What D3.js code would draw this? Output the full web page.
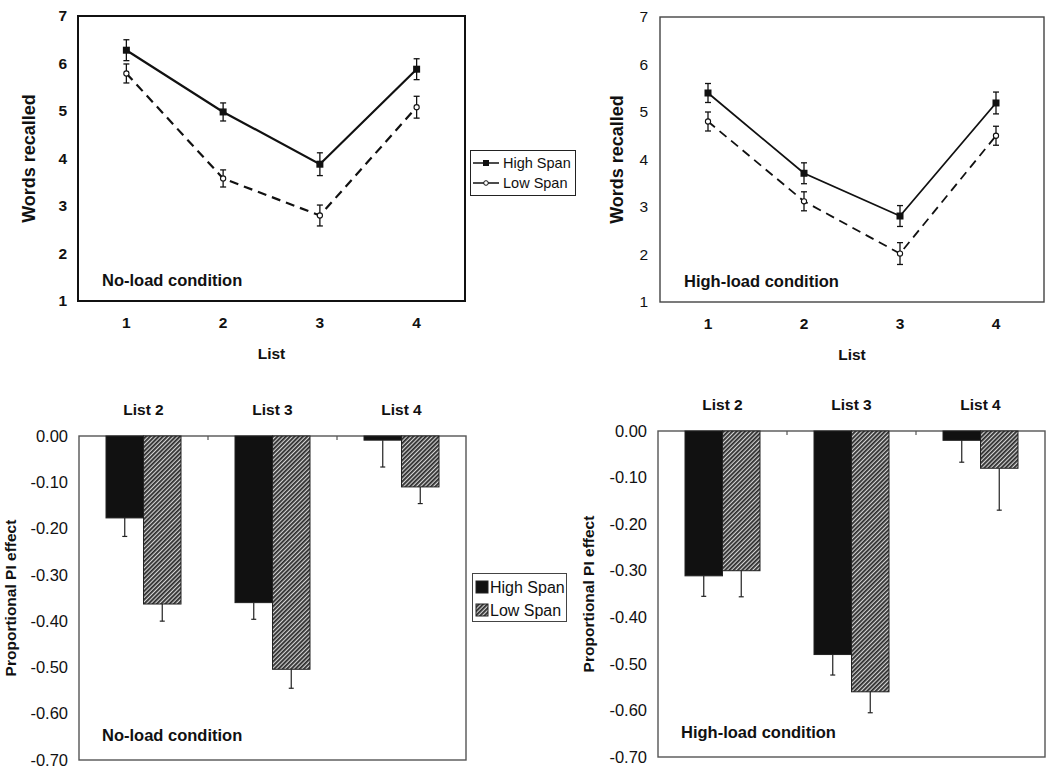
<!DOCTYPE html>
<html><head><meta charset="utf-8">
<script src="https://cdn.jsdelivr.net/npm/d3@7"></script>
<style>
html,body{margin:0;padding:0;background:#fff;}
svg text{font-family:"Liberation Sans",Arial,sans-serif;fill:#111;}
</style></head>
<body>
<svg id="c" width="1050" height="777"></svg>
<script>
// ---------- data ----------
const lists = ["1", "2", "3", "4"];
const seriesNames = ["High Span", "Low Span"];

const noLoadHigh    = [6.28, 4.98, 3.88, 5.88];
const noLoadHighErr = [0.22, 0.19, 0.24, 0.22];
const noLoadLow     = [5.79, 3.58, 2.80, 5.08];
const noLoadLowErr  = [0.20, 0.18, 0.22, 0.23];

const highLoadHigh    = [5.40, 3.71, 2.81, 5.19];
const highLoadHighErr = [0.20, 0.22, 0.22, 0.23];
const highLoadLow     = [4.80, 3.12, 2.02, 4.50];
const highLoadLowErr  = [0.20, 0.20, 0.23, 0.20];

const barCats = ["List 2", "List 3", "List 4"];
const noLoadPIHigh    = [-0.177, -0.360, -0.009];
const noLoadPIHighErr = [0.040, 0.036, 0.058];
const noLoadPILow     = [-0.363, -0.504, -0.110];
const noLoadPILowErr  = [0.037, 0.041, 0.036];

const highLoadPIHigh    = [-0.311, -0.480, -0.020];
const highLoadPIHighErr = [0.044, 0.044, 0.047];
const highLoadPILow     = [-0.300, -0.560, -0.080];
const highLoadPILowErr  = [0.056, 0.045, 0.090];

const lineTicks = [1, 2, 3, 4, 5, 6, 7];
const barTicks = [0, -0.1, -0.2, -0.3, -0.4, -0.5, -0.6, -0.7];

// ---------- drawing ----------
const svg = d3.select("#c");
svg.append("rect").attr("width", 1050).attr("height", 777).attr("fill", "#fff");

const defs = svg.append("defs");
const pat = defs.append("pattern").attr("id", "hatch").attr("patternUnits", "userSpaceOnUse")
  .attr("width", 3).attr("height", 3).attr("patternTransform", "rotate(45)");
pat.append("rect").attr("width", 3).attr("height", 3).attr("fill", "#d4d4d4");
pat.append("line").attr("x1", 0.9).attr("y1", 0).attr("x2", 0.9).attr("y2", 3)
  .attr("stroke", "#222").attr("stroke-width", 1.7);

function lineChart(o) {
  const x = d3.scaleBand().domain(lists).range([o.x0, o.x1]);
  const y = d3.scaleLinear().domain([1, 7]).range([o.y1, o.y0]);
  const g = svg.append("g");
  g.append("rect").attr("x", o.x0).attr("y", o.y0).attr("width", o.x1 - o.x0).attr("height", o.y1 - o.y0)
    .attr("fill", "none").attr("stroke", o.boxColor).attr("stroke-width", o.boxW);
  const ya = g.append("g").attr("transform", `translate(${o.x0},0)`)
    .call(d3.axisLeft(y).tickValues(lineTicks).tickSize(0).tickPadding(o.tickPad).tickFormat(d3.format("d")));
  ya.select(".domain").remove();
  ya.selectAll("text").attr("font-size", 15.5).attr("font-weight", o.yBold ? "bold" : "normal")
    .attr("font-family", "Liberation Sans, Arial, sans-serif").attr("fill", "#111");
  const xa = g.append("g").attr("transform", `translate(0,${o.y1})`)
    .call(d3.axisBottom(x).tickSize(0).tickPadding(16));
  xa.select(".domain").remove();
  xa.selectAll("text").attr("font-size", 15.5).attr("font-weight", "bold")
    .attr("font-family", "Liberation Sans, Arial, sans-serif").attr("fill", "#111");
  g.append("text").attr("x", (o.x0 + o.x1) / 2).attr("y", o.y1 + 58).attr("text-anchor", "middle")
    .attr("font-size", 15.5).attr("font-weight", "bold").text("List");
  g.append("text").attr("transform", `translate(${o.ylabX},${(o.y0 + o.y1) / 2}) rotate(-90)`)
    .attr("text-anchor", "middle").attr("dy", "0.35em").attr("font-size", 18).attr("font-weight", "bold")
    .text("Words recalled");
  g.append("text").attr("x", o.x0 + 24).attr("y", o.y1 - 21).attr("dy", "0.35em")
    .attr("font-size", 16.5).attr("font-weight", "bold").text(o.label);

  const cx = d => x(d) + x.bandwidth() / 2;
  const series = [
    {v: o.low, e: o.lowErr, dash: "9,6", type: "low"},
    {v: o.high, e: o.highErr, dash: null, type: "high"}
  ];
  series.forEach(s => {
    const pts = lists.map((d, i) => ({d, v: s.v[i], e: s.e[i]}));
    g.append("path").datum(pts)
      .attr("d", d3.line().x(p => cx(p.d)).y(p => y(p.v)))
      .attr("fill", "none").attr("stroke", "#111").attr("stroke-width", o.lineW)
      .attr("stroke-dasharray", s.dash);
    const eb = g.append("g").selectAll("g").data(pts).join("g");
    eb.append("line").attr("x1", p => cx(p.d)).attr("x2", p => cx(p.d))
      .attr("y1", p => y(p.v + p.e)).attr("y2", p => y(p.v - p.e)).attr("stroke", "#111").attr("stroke-width", 1.3);
    [1, -1].forEach(sg => eb.append("line").attr("x1", p => cx(p.d) - 3).attr("x2", p => cx(p.d) + 3)
      .attr("y1", p => y(p.v + sg * p.e)).attr("y2", p => y(p.v + sg * p.e)).attr("stroke", "#111").attr("stroke-width", 1.3));
    if (s.type === "high") {
      eb.append("rect").attr("x", p => cx(p.d) - 3.5).attr("y", p => y(p.v) - 3.5)
        .attr("width", 7).attr("height", 7).attr("fill", "#111");
    } else {
      eb.append("circle").attr("cx", p => cx(p.d)).attr("cy", p => y(p.v)).attr("r", 2.6)
        .attr("fill", "#fff").attr("stroke", "#111").attr("stroke-width", 1.1);
    }
  });
}

lineChart({x0: 78, x1: 465, y0: 16, y1: 301, boxColor: "#111", boxW: 2, tickPad: 11, yBold: true,
  ylabX: 29, label: "No-load condition", lineW: 2.2,
  high: noLoadHigh, highErr: noLoadHighErr, low: noLoadLow, lowErr: noLoadLowErr});
lineChart({x0: 660, x1: 1044, y0: 17, y1: 302, boxColor: "#444", boxW: 1.4, tickPad: 12, yBold: false,
  ylabX: 617, label: "High-load condition", lineW: 1.8,
  high: highLoadHigh, highErr: highLoadHighErr, low: highLoadLow, lowErr: highLoadLowErr});

// top legend
(function () {
  const g = svg.append("g");
  g.append("rect").attr("x", 470.5).attr("y", 150.5).attr("width", 105).attr("height", 45)
    .attr("fill", "#fff").attr("stroke", "#222").attr("stroke-width", 1);
  seriesNames.forEach((n, i) => {
    const yy = 163 + i * 20;
    g.append("line").attr("x1", 473).attr("x2", 499).attr("y1", yy).attr("y2", yy).attr("stroke", "#111").attr("stroke-width", 1.5);
    if (i === 0) g.append("rect").attr("x", 483).attr("y", yy - 3).attr("width", 6).attr("height", 6).attr("fill", "#111");
    else g.append("circle").attr("cx", 486).attr("cy", yy).attr("r", 2.3).attr("fill", "#fff").attr("stroke", "#111");
    g.append("text").attr("x", 503).attr("y", yy).attr("dy", "0.35em").attr("font-size", 14.5).text(n);
  });
})();

function barChart(o) {
  const x = d3.scaleBand().domain(barCats).range([o.x0, o.x1]);
  const y = d3.scaleLinear().domain([-0.7, 0]).range([o.y1, o.y0]);
  const gw = 75;
  const xs = d3.scaleBand().domain(seriesNames).range([0, gw]);
  const g = svg.append("g");
  g.append("rect").attr("x", o.x0).attr("y", o.y0).attr("width", o.x1 - o.x0).attr("height", o.y1 - o.y0)
    .attr("fill", "none").attr("stroke", "#555").attr("stroke-width", 1.4);
  const ya = g.append("g").attr("transform", `translate(${o.x0},0)`)
    .call(d3.axisLeft(y).tickValues(barTicks).tickSize(0).tickPadding(11).tickFormat(d => (Math.abs(d) < 1e-9 ? 0 : d).toFixed(2)));
  ya.select(".domain").remove();
  ya.selectAll("text").attr("font-size", 16.5).attr("font-family", "Liberation Sans, Arial, sans-serif").attr("fill", "#111");
  // category labels on top
  g.selectAll("text.cat").data(barCats).join("text").attr("class", "cat")
    .attr("x", d => x(d) + x.bandwidth() / 2).attr("y", o.y0 - 26).attr("dy", "0.35em")
    .attr("text-anchor", "middle").attr("font-size", 15.5).attr("font-weight", "bold").text(d => d);
  // small band-boundary ticks
  g.selectAll("line.bt").data(barCats.slice(1)).join("line").attr("class", "bt")
    .attr("x1", d => x(d)).attr("x2", d => x(d)).attr("y1", o.y0).attr("y2", o.y0 + 4)
    .attr("stroke", "#555").attr("stroke-width", 1.2);
  g.append("text").attr("transform", `translate(${o.ylabX},${(o.y0 + o.y1) / 2}) rotate(-90)`)
    .attr("text-anchor", "middle").attr("dy", "0.35em").attr("font-size", 15.5).attr("font-weight", "bold")
    .text("Proportional PI effect");
  g.append("text").attr("x", o.x0 + 23).attr("y", o.y1 - 25).attr("dy", "0.35em")
    .attr("font-size", 16.5).attr("font-weight", "bold").text(o.label);

  const data = [];
  barCats.forEach((c, i) => {
    data.push({c, s: seriesNames[0], v: o.high[i], e: o.highErr[i]});
    data.push({c, s: seriesNames[1], v: o.low[i], e: o.lowErr[i]});
  });
  const bx = d => x(d.c) + (x.bandwidth() - gw) / 2 + xs(d.s);
  g.selectAll("rect.bar").data(data).join("rect").attr("class", "bar")
    .attr("x", bx).attr("y", y(0)).attr("width", xs.bandwidth()).attr("height", d => y(d.v) - y(0))
    .attr("fill", d => d.s === seriesNames[0] ? "#111" : "url(#hatch)")
    .attr("stroke", "#222").attr("stroke-width", 1);
  const cx = d => bx(d) + xs.bandwidth() / 2;
  g.selectAll("line.eb").data(data).join("line").attr("class", "eb")
    .attr("x1", cx).attr("x2", cx).attr("y1", d => y(d.v)).attr("y2", d => y(d.v - d.e))
    .attr("stroke", "#222").attr("stroke-width", 1.2);
  g.selectAll("line.ec").data(data).join("line").attr("class", "ec")
    .attr("x1", d => cx(d) - 2.5).attr("x2", d => cx(d) + 2.5).attr("y1", d => y(d.v - d.e)).attr("y2", d => y(d.v - d.e))
    .attr("stroke", "#222").attr("stroke-width", 1.2);
}

barChart({x0: 79, x1: 466, y0: 436, y1: 760, ylabX: 11, label: "No-load condition",
  high: noLoadPIHigh, highErr: noLoadPIHighErr, low: noLoadPILow, lowErr: noLoadPILowErr});
barChart({x0: 658, x1: 1045, y0: 431, y1: 757, ylabX: 589, label: "High-load condition",
  high: highLoadPIHigh, highErr: highLoadPIHighErr, low: highLoadPILow, lowErr: highLoadPILowErr});

// bottom legend
(function () {
  const g = svg.append("g");
  g.append("rect").attr("x", 472.5).attr("y", 573.5).attr("width", 94).attr("height", 48)
    .attr("fill", "#fff").attr("stroke", "#444").attr("stroke-width", 1);
  seriesNames.forEach((n, i) => {
    const yy = 587 + i * 23;
    g.append("rect").attr("x", 476).attr("y", yy - 6).attr("width", 12).attr("height", 12)
      .attr("fill", i === 0 ? "#111" : "url(#hatch)").attr("stroke", "#222").attr("stroke-width", 1);
    g.append("text").attr("x", 490).attr("y", yy).attr("dy", "0.35em").attr("font-size", 16).text(n);
  });
})();
</script>
</body></html>
